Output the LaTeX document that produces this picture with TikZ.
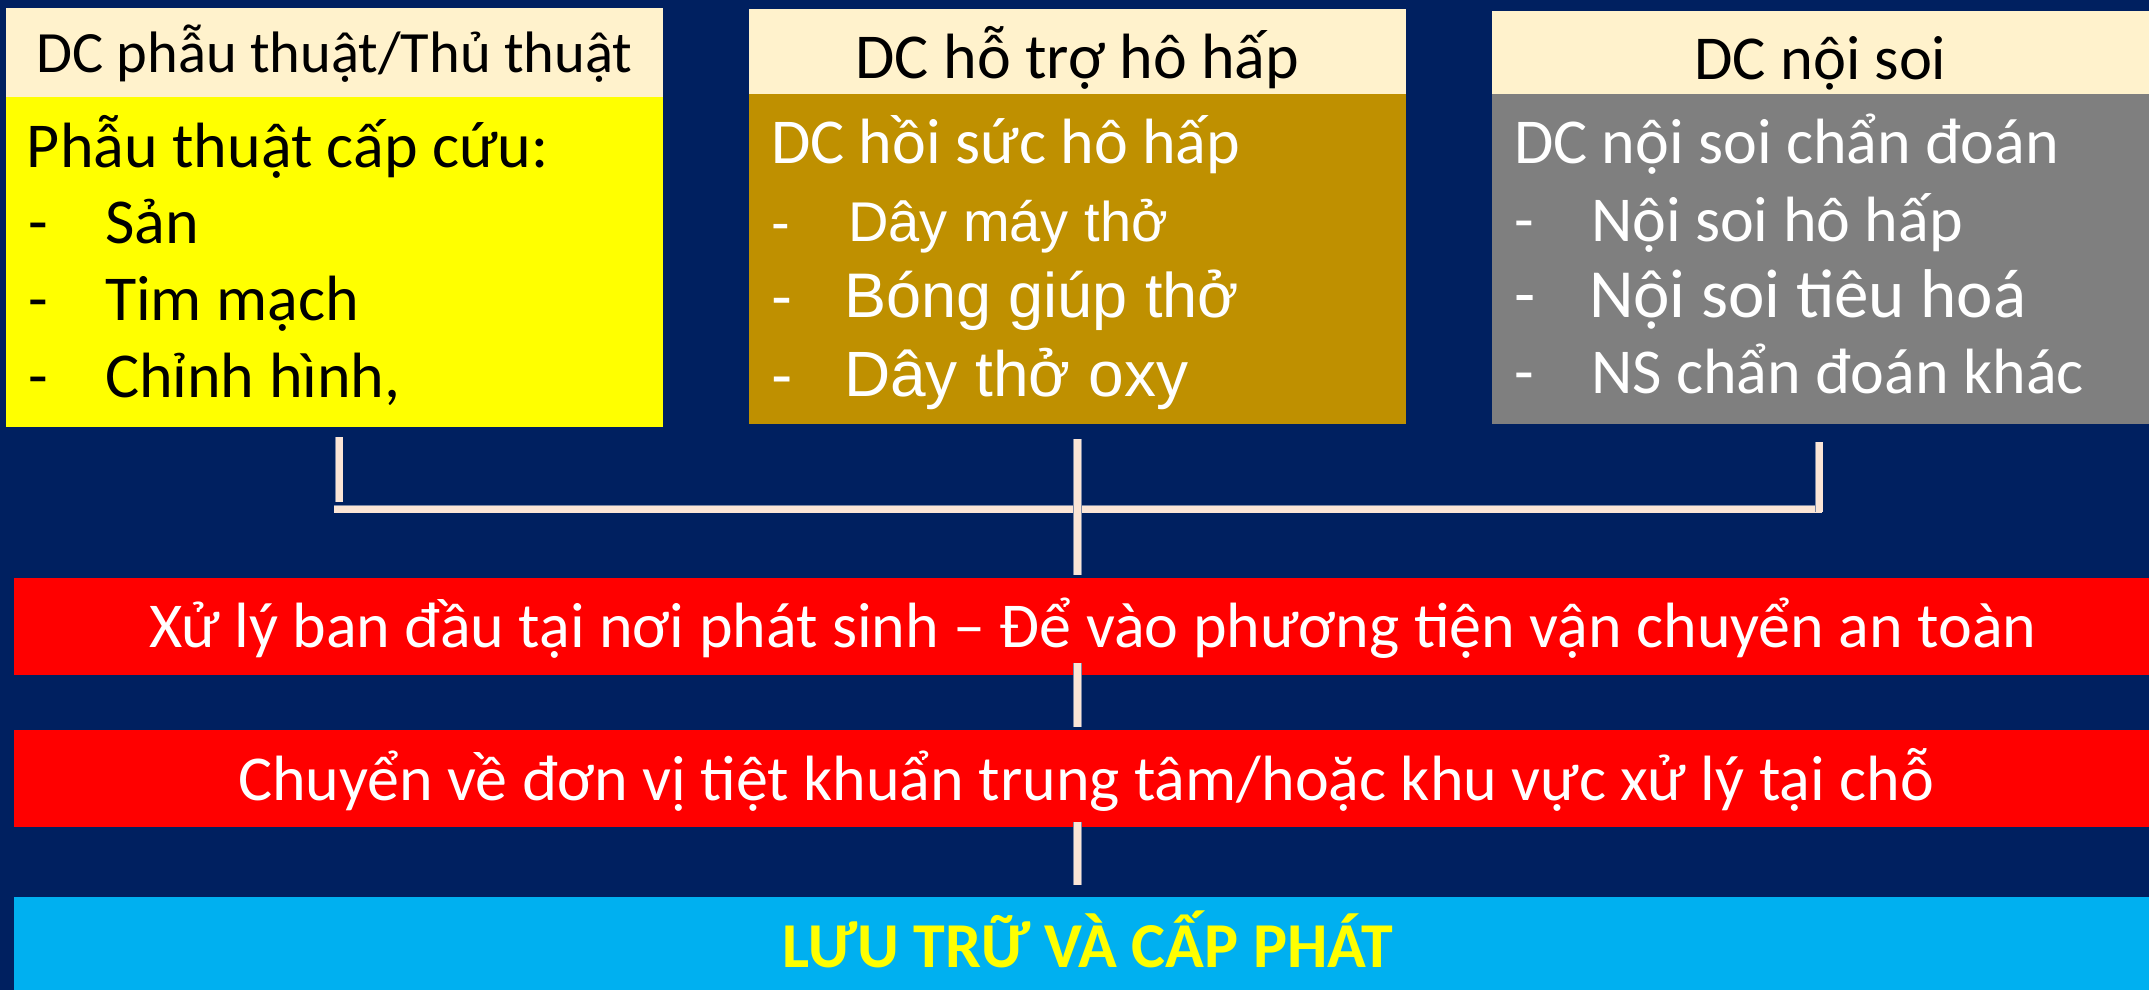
\documentclass[tikz,border=0pt]{standalone}
\usepackage{fontspec}
\setmainfont{Carlito}
\newfontfamily\arialf{Liberation Sans}
\definecolor{navy}{HTML}{002060}
\definecolor{hdr}{HTML}{FFF2CC}
\definecolor{ylw}{HTML}{FFFF00}
\definecolor{gold}{HTML}{BF9000}
\definecolor{gry}{HTML}{7F7F7F}
\definecolor{rd}{HTML}{FF0000}
\definecolor{blu}{HTML}{00B0F0}
\definecolor{linec}{HTML}{FBE5D6}
\definecolor{lineedge}{HTML}{7F8AA6}
\newcommand{\fs}[1]{\fontsize{#1}{#1}\selectfont}
\begin{document}
\begin{tikzpicture}[x=1pt,y=-1pt,
  boxs/.style={rectangle,draw=none,inner sep=0pt,outer sep=0pt,anchor=north west},
  txt/.style={inner sep=0pt,outer sep=0pt,anchor=base west},
  ctxt/.style={inner sep=0pt,outer sep=0pt,anchor=base},
  conn/.style={line width=7pt,draw=linec,preaction={draw=lineedge,line width=8.5pt}}]
\useasboundingbox (0,0) rectangle (2149,990);
\fill[navy] (0,0) rectangle (2149,990);
% top boxes
\node[boxs,fill=hdr,minimum width=657pt,minimum height=89pt] (h1) at (6,8) {};
\node[boxs,fill=ylw,minimum width=657pt,minimum height=330pt] (b1) at (6,97) {};
\node[boxs,fill=hdr,minimum width=657pt,minimum height=85pt] (h2) at (749,9) {};
\node[boxs,fill=gold,minimum width=657pt,minimum height=330pt] (b2) at (749,94) {};
\node[boxs,fill=hdr,minimum width=657pt,minimum height=83pt] (h3) at (1492,11) {};
\node[boxs,fill=gry,minimum width=657pt,minimum height=330pt] (b3) at (1492,94) {};
% bottom bars
\node[boxs,fill=rd,minimum width=2135pt,minimum height=97pt] (r1) at (14,578) {};
\node[boxs,fill=rd,minimum width=2135pt,minimum height=97pt] (r2) at (14,730) {};
\node[boxs,fill=blu,minimum width=2135pt,minimum height=93pt] (bl) at (14,897) {};
% header texts
\node[ctxt,font=\fs{58.5}] (t1) at (334.5,73) {DC phẫu thuật/Thủ thuật};
\node[ctxt,font=\fs{64}] (t2) at (1077.5,78) {DC hỗ trợ hô hấp};
\node[ctxt,font=\fs{62.5}] (t3) at (1820.5,80) {DC nội soi};
% box 1 body
\node[txt,font=\fs{64}] (a0) at (27,167) {Phẫu thuật cấp cứu:};
\node[txt,font=\fs{64}] (a1d) at (28,243) {-};
\node[txt,font=\fs{64}] (a1) at (105,243) {Sản};
\node[txt,font=\fs{64}] (a2d) at (28,320) {-};
\node[txt,font=\fs{64}] (a2) at (105,320) {Tim mạch};
\node[txt,font=\fs{64}] (a3d) at (28,397) {-};
\node[txt,font=\fs{64}] (a3) at (105,397) {Chỉnh hình,};
% box 2 body
\node[txt,font=\fs{64},text=white] (c0) at (771,163) {DC hồi sức hô hấp};
\node[txt,font=\arialf\fs{56},text=white] (c1d) at (771,241) {-};
\node[txt,font=\arialf\fs{56},text=white] (c1) at (848,241) {Dây máy thở};
\node[txt,font=\arialf\fs{63},text=white] (c2d) at (771,317) {-};
\node[txt,font=\arialf\fs{63},text=white] (c2) at (844,317) {Bóng giúp thở};
\node[txt,font=\arialf\fs{64},text=white] (c3d) at (771,396) {-};
\node[txt,font=\arialf\fs{64},text=white] (c3) at (844,396) {Dây thở oxy};
% box 3 body
\node[txt,font=\fs{64},text=white] (e0) at (1514,163) {DC nội soi chẩn đoán};
\node[txt,font=\fs{64},text=white] (e1d) at (1514,241) {-};
\node[txt,font=\fs{64},text=white] (e1) at (1591,241) {Nội soi hô hấp};
\node[txt,font=\fs{69},text=white] (e2d) at (1514,317) {-};
\node[txt,font=\fs{69},text=white] (e2) at (1589,317) {Nội soi tiêu hoá};
\node[txt,font=\fs{64},text=white] (e3d) at (1514,393) {-};
\node[txt,font=\fs{64},text=white] (e3) at (1591,393) {NS chẩn đoán khác};
% bar texts
\node[ctxt,font=\fs{64},text=white] (rt1) at (1093,647) {Xử lý ban đầu tại nơi phát sinh – Để vào phương tiện vận chuyển an toàn};
\node[ctxt,font=\fs{64},text=white] (rt2) at (1086,800) {Chuyển về đơn vị tiệt khuẩn trung tâm/hoặc khu vực xử lý tại chỗ};
\node[ctxt,font=\bfseries\fs{64},text=ylw] (bt) at (1088,967) {LƯU TRỮ VÀ CẤP PHÁT};
% connectors
\coordinate (s1a) at (339,437);
\coordinate (s1b) at (339,502);
\coordinate (ha) at (334,509);
\coordinate (hb) at (1822,509);
\coordinate (s3a) at (1819,442);
\coordinate (s3b) at (1819,512);
\coordinate (m1) at (1077.5,439);
\coordinate (m2) at (1077.5,575);
\coordinate (m3) at (1077.5,663);
\coordinate (m4) at (1077.5,727);
\coordinate (m5) at (1077.5,822);
\coordinate (m6) at (1077.5,885);
\draw[conn] (s1a) -- (s1b);
\draw[conn] (ha) -- (hb);
\draw[conn] (s3a) -- (s3b);
\draw[conn] (m1) -- (m2);
\draw[conn] (m3) -- (m4);
\draw[conn] (m5) -- (m6);
\end{tikzpicture}
\end{document}
